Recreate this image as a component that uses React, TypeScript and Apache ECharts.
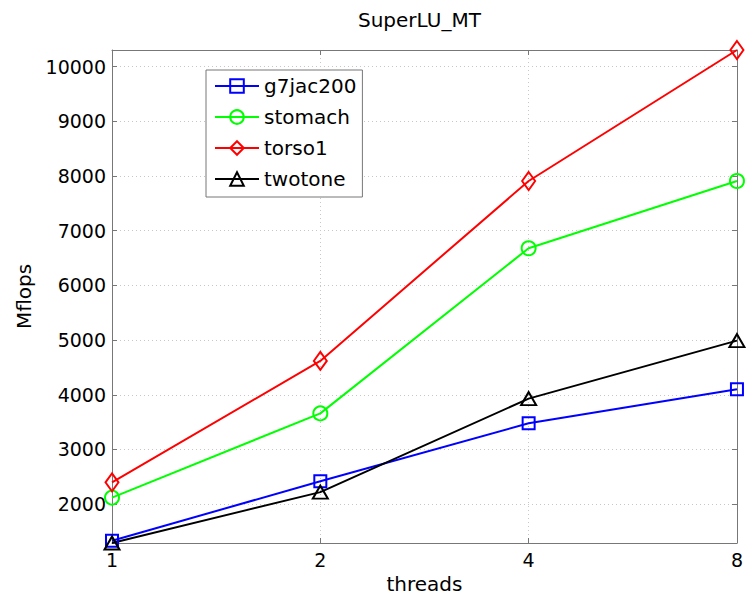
import React, { useEffect, useRef } from "react";
import * as echarts from "echarts";

const threads = ["1", "2", "4", "8"];
const g7jac200 = [1330, 2420, 3480, 4100];
const stomach = [2120, 3660, 6680, 7910];
const torso1 = [2400, 4620, 7910, 10305];
const twotone = [1290, 2220, 3930, 4990];

const seriesNames = ["g7jac200", "stomach", "torso1", "twotone"];
const seriesData = [g7jac200, stomach, torso1, twotone];
const seriesColors = ["#0000ff", "#00ff00", "#ff0000", "#000000"];
const seriesSymbols = ["rect", "circle", "diamond", "triangle"];
const seriesSymbolSizes: any[] = [12, 14, [13, 18], [15, 13]];

const FONT = "DejaVu Sans";
const AXIS_GRAY = "#777777";

export default function App() {
  const ref = useRef<HTMLDivElement>(null);

  useEffect(() => {
    if (!ref.current) return;
    const chart = echarts.init(ref.current, null, { renderer: "svg" });
    const all = seriesData.flat();
    const yMin = Math.min(...all);
    const yMax = Math.max(...all);

    const series = seriesNames.map((name, i) => ({
      name,
      type: "line",
      data: seriesData[i],
      symbol: seriesSymbols[i],
      symbolSize: seriesSymbolSizes[i],
      showSymbol: true,
      clip: false,
      lineStyle: { color: seriesColors[i], width: 2 },
      itemStyle: {
        color: "transparent",
        borderColor: seriesColors[i],
        borderWidth: 2,
      },
      emphasis: { disabled: true },
    }));

    chart.setOption({
      animation: false,
      backgroundColor: "#ffffff",
      title: {
        text: "SuperLU_MT",
        left: 358,
        top: 10,
        padding: 0,
        textStyle: {
          fontFamily: FONT,
          fontSize: 20,
          fontWeight: "normal",
          color: "#000",
        },
      },
      legend: {
        orient: "vertical",
        left: 206,
        top: 70,
        padding: [6, 6, 8, 8],
        itemGap: 11,
        itemWidth: 44,
        itemHeight: 17,
        backgroundColor: "#ffffff",
        borderColor: AXIS_GRAY,
        borderWidth: 1,
        borderRadius: 0,
        data: seriesNames,
        textStyle: { fontFamily: FONT, fontSize: 20, color: "#000", padding: [0, 0, 0, 0] },
      },
      grid: { left: 112, right: 5, top: 50, bottom: 54, containLabel: false },
      xAxis: [
        {
          type: "category",
          data: threads,
          boundaryGap: false,
          name: "threads",
          nameLocation: "middle",
          nameGap: 31,
          nameTextStyle: { fontFamily: FONT, fontSize: 20, color: "#000" },
          axisLine: { lineStyle: { color: AXIS_GRAY, width: 1 } },
          axisTick: { inside: true, length: 5, lineStyle: { color: AXIS_GRAY } },
          axisLabel: { fontFamily: FONT, fontSize: 19, color: "#000", margin: 7 },
          splitLine: { show: true, lineStyle: { color: "#c8c8c8", type: [1, 3], width: 1 } },
        },
        {
          type: "category",
          data: threads,
          boundaryGap: false,
          position: "top",
          axisLine: { lineStyle: { color: AXIS_GRAY, width: 1 } },
          axisTick: { inside: true, length: 5, lineStyle: { color: AXIS_GRAY } },
          axisLabel: { show: false },
          splitLine: { show: false },
        },
      ],
      yAxis: [
        {
          type: "value",
          min: yMin,
          max: yMax,
          splitNumber: 9,
          name: "Mflops",
          nameLocation: "middle",
          nameGap: 78,
          nameRotate: 90,
          nameTextStyle: { fontFamily: FONT, fontSize: 20, color: "#000" },
          axisLine: { show: true, lineStyle: { color: AXIS_GRAY, width: 1 } },
          axisTick: { show: true, inside: true, length: 5, lineStyle: { color: AXIS_GRAY } },
          axisLabel: {
            fontFamily: FONT,
            fontSize: 19,
            color: "#000",
            margin: 6,
            showMinLabel: false,
            showMaxLabel: false,
            formatter: (v: number) => (v % 1000 === 0 ? String(v) : ""),
          },
          splitLine: { show: true, lineStyle: { color: "#c8c8c8", type: [1, 3], width: 1 } },
        },
        {
          type: "value",
          min: yMin,
          max: yMax,
          splitNumber: 9,
          position: "right",
          axisLine: { show: true, lineStyle: { color: AXIS_GRAY, width: 1 } },
          axisTick: { show: true, inside: true, length: 5, lineStyle: { color: AXIS_GRAY } },
          axisLabel: { show: false },
          splitLine: { show: false },
        },
      ],
      series,
    });

    return () => chart.dispose();
  }, []);

  return (
    <div
      ref={ref}
      style={{ position: "fixed", left: 0, top: 0, width: 746, height: 599, background: "#fff" }}
    />
  );
}
